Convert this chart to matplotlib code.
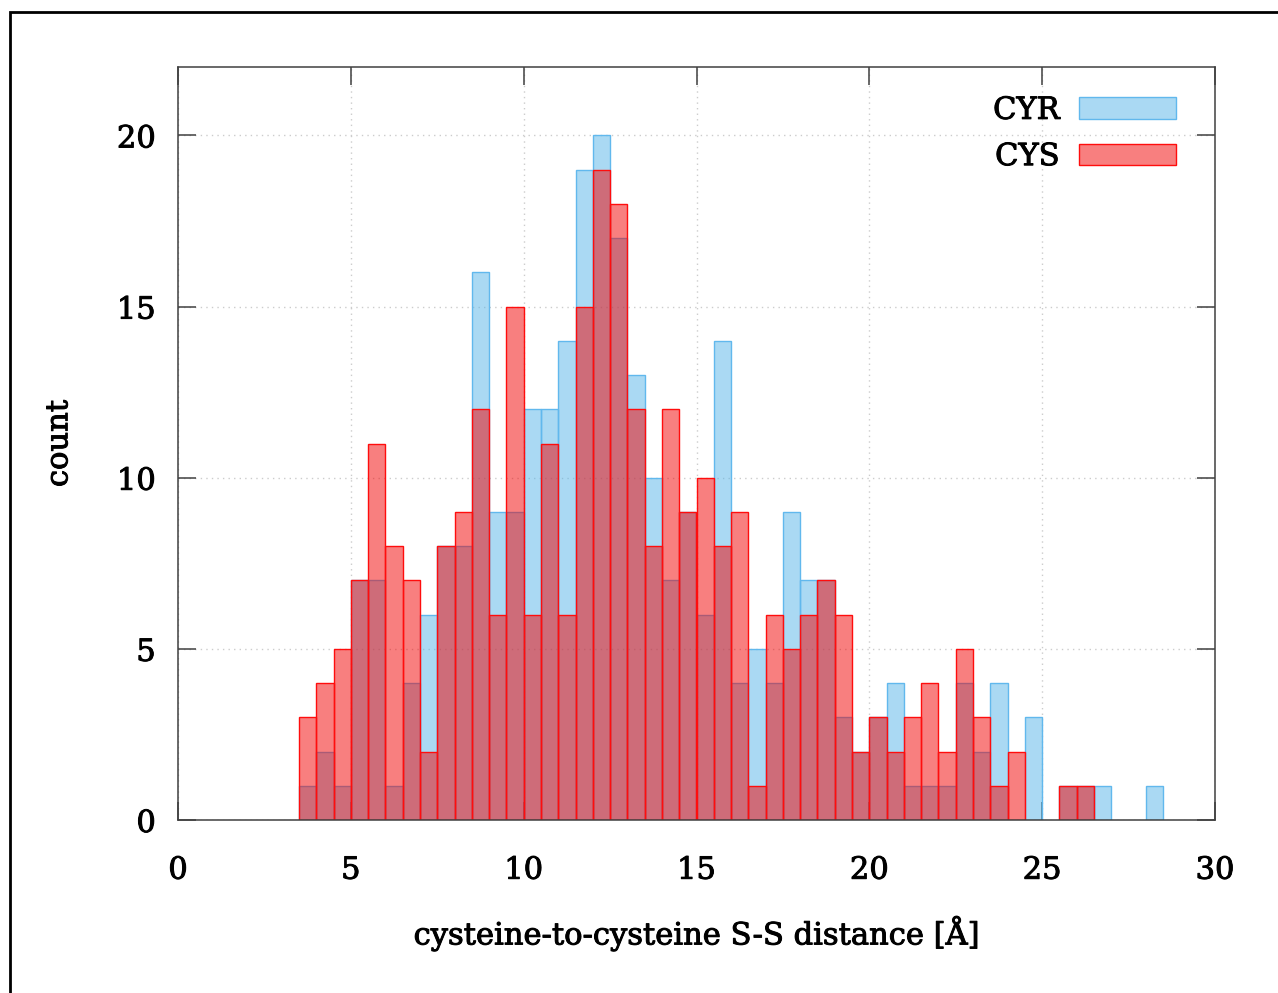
import matplotlib
matplotlib.use('Agg')
import matplotlib.pyplot as plt
import matplotlib.patheffects as pe
import numpy as np
from matplotlib.patches import Rectangle

# histogram bins, width 0.5 A starting at 3.5 A
bin_edges = np.arange(3.5, 28.5 + 0.25, 0.5)

# counts per bin
cyr_counts = [1, 2, 1, 7, 7, 1, 4, 6, 8, 8,
              16, 9, 9, 12, 12, 14, 19, 20, 17, 13,
              10, 7, 9, 6, 14, 4, 5, 4, 9, 7,
              7, 3, 2, 3, 4, 1, 1, 1, 4, 2,
              4, 0, 3, 0, 1, 1, 1, 0, 0, 1]
cys_counts = [3, 4, 5, 7, 11, 8, 7, 2, 8, 9,
              12, 6, 15, 6, 11, 6, 15, 19, 18, 12,
              8, 12, 9, 10, 8, 9, 1, 6, 5, 6,
              7, 6, 2, 3, 2, 3, 4, 2, 5, 3,
              1, 2, 0, 0, 1, 1, 0, 0, 0, 0]

x_ticks = [0, 5, 10, 15, 20, 25, 30]
y_ticks = [0, 5, 10, 15, 20]

plt.rcParams['font.family'] = ['DejaVu Serif']
fs = 22

fig = plt.figure(figsize=(12.78, 9.93), dpi=100)
ax = fig.add_axes([178/1278, 1 - 820/993, (1215-178)/1278, (820-67)/993])

left = bin_edges[:-1]
cyr = np.array(cyr_counts)
cys = np.array(cys_counts)

m = cyr > 0
ax.bar(left[m], cyr[m], width=0.5, align='edge', color=(0.34, 0.71, 0.91, 0.5),
       edgecolor=(0.38, 0.72, 0.93), linewidth=1.0, label='CYR', zorder=2)
m = cys > 0
ax.bar(left[m], cys[m], width=0.5, align='edge', color=(0.95, 0.0, 0.0, 0.5),
       edgecolor=(1.0, 0.05, 0.05), linewidth=1.0, label='CYS', zorder=3)

ax.set_xlim(0, 30)
ax.set_ylim(0, 22)
ax.set_xticks(x_ticks)
ax.set_yticks(y_ticks)
ax.grid(True, color='#cccccc', linestyle=(0, (1, 3)), linewidth=1.0, zorder=0)
ax.set_axisbelow(True)

for s in ax.spines.values():
    s.set_color('#404040')
    s.set_linewidth(1.1)
    s.set_zorder(4)
ax.tick_params(direction='in', length=13, width=1.1, color='#404040',
               top=True, right=True, labelsize=fs)
ax.tick_params(axis='x', pad=25)
ax.tick_params(axis='y', pad=16)

ax.set_xlabel('cysteine-to-cysteine S-S distance [Å]', fontsize=fs)
ax.set_ylabel('count', fontsize=fs)
ax.xaxis.set_label_coords(0.5, -0.126)
ax.yaxis.set_label_coords(-0.100, 0.5)

leg = ax.legend(loc='upper right', bbox_to_anchor=(0.962, 0.963), frameon=False,
                markerfirst=False, fontsize=fs, handlelength=3.15, handleheight=0.72,
                handletextpad=0.65, labelspacing=0.5, borderpad=0, borderaxespad=0)

# a slightly heavier look for all the text
stroke = [pe.withStroke(linewidth=0.7, foreground='black')]
for t in ax.get_xticklabels() + ax.get_yticklabels() + leg.get_texts():
    t.set_path_effects(stroke)
ax.xaxis.label.set_path_effects(stroke)
ax.yaxis.label.set_path_effects(stroke)

# outer frame around the whole picture
fig.patches.append(Rectangle((10/1278, -0.05), 1.1, 1 - 12/993 + 0.05,
                             transform=fig.transFigure, fill=False,
                             edgecolor='black', linewidth=2))

fig.savefig('out.png', dpi=100)
